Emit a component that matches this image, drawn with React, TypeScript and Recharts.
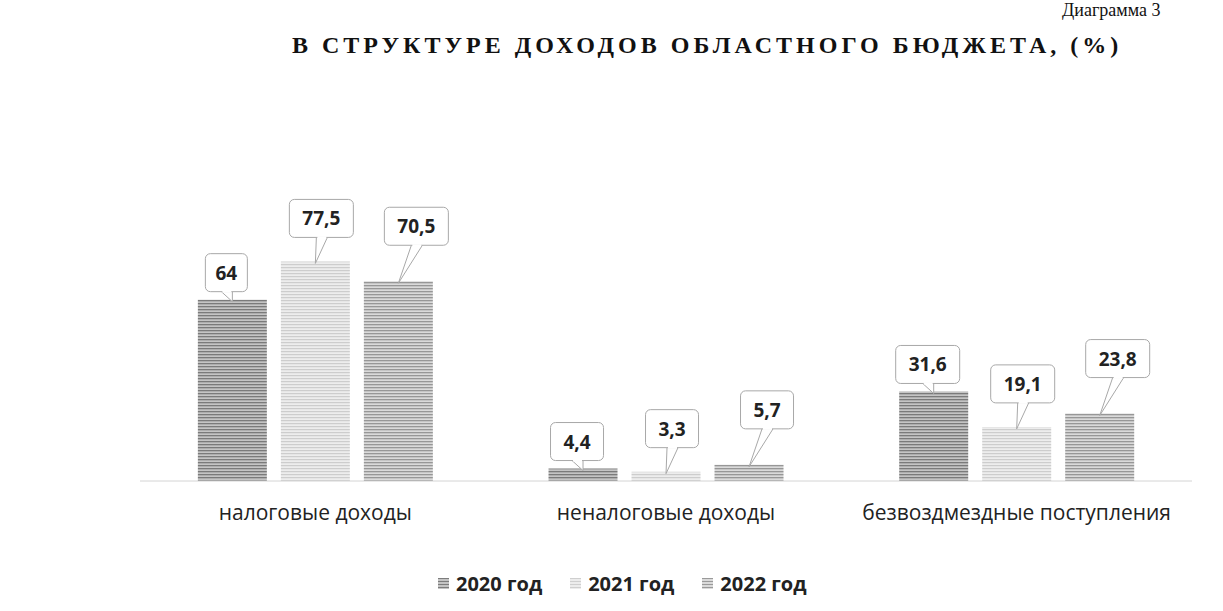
import { BarChart, Bar, XAxis, YAxis, LabelList } from "recharts";

const categories = ["налоговые доходы", "неналоговые доходы", "безвоздмездные поступления"];
const y2020 = [64, 4.4, 31.6];
const y2021 = [77.5, 3.3, 19.1];
const y2022 = [70.5, 5.7, 23.8];
const seriesNames = ["2020 год", "2021 год", "2022 год"];

const data = categories.map((name, i) => ({
  name,
  y2020: y2020[i],
  y2021: y2021[i],
  y2022: y2022[i],
}));

const fmt = (v: number) => String(v).replace(".", ",");

function Callout(props: any, dx: number, gap: number) {
  const { x, y, width, value } = props;
  const txt = fmt(Number(value));
  const w = txt.length * 11 + 20;
  const h = 38;
  const cx = x + width / 2 + dx;
  const bottom = y - gap;
  const top = bottom - h;
  const barCx = x + width / 2;
  return (
    <g>
      <path
        d={`M${cx - 5},${bottom} L${barCx},${y + 2} L${cx + 6},${bottom}`}
        fill="#fff"
        stroke="#a8a8a8"
        strokeWidth={1}
      />
      <rect
        x={cx - w / 2}
        y={top}
        width={w}
        height={h}
        rx={5}
        fill="#fff"
        stroke="#a8a8a8"
        strokeWidth={1}
      />
      <line x1={cx - 4} y1={bottom} x2={cx + 5} y2={bottom} stroke="#fff" strokeWidth={2} />
      <text
        x={cx}
        y={top + h / 2 + 7}
        textAnchor="middle"
        fontFamily="'Open Sans', sans-serif"
        fontWeight={700}
        fontSize={19}
        fill="#222"
      >
        {txt}
      </text>
    </g>
  );
}

const swatches = [
  "repeating-linear-gradient(#7d7d7d 0 1px, #c4c4c4 1px 3px)",
  "repeating-linear-gradient(#cfcfcf 0 1px, #ececec 1px 3px)",
  "repeating-linear-gradient(#9a9a9a 0 1px, #dadada 1px 3px)",
];

export default function App() {
  return (
    <div style={{ position: "absolute", left: 0, top: 0, width: 1223, height: 611, background: "#fff", overflow: "hidden" }}>
      <div style={{ position: "absolute", left: 1062, top: 0, fontFamily: "'Liberation Serif', serif", fontSize: 18, lineHeight: "20px", color: "#111" }}>
        Диаграмма 3
      </div>
      <div style={{ position: "absolute", left: 292, top: 32, fontFamily: "'Liberation Serif', serif", fontWeight: 700, fontSize: 24, letterSpacing: 4, whiteSpace: "nowrap", color: "#111" }}>
        В СТРУКТУРЕ ДОХОДОВ ОБЛАСТНОГО БЮДЖЕТА, (%)
      </div>
      <BarChart
        width={1223}
        height={611}
        data={data}
        margin={{ top: 226, right: 31, bottom: 100, left: 140 }}
        barCategoryGap="16.5%"
        barGap={14}
      >
        <defs>
          <pattern id="p2020" width="6" height="3" patternUnits="userSpaceOnUse">
            <rect width="6" height="3" fill="#c4c4c4" />
            <rect width="6" height="1.3" fill="#7a7a7a" />
          </pattern>
          <pattern id="p2021" width="6" height="3" patternUnits="userSpaceOnUse">
            <rect width="6" height="3" fill="#ededed" />
            <rect width="6" height="1.2" fill="#cdcdcd" />
          </pattern>
          <pattern id="p2022" width="6" height="3" patternUnits="userSpaceOnUse">
            <rect width="6" height="3" fill="#dadada" />
            <rect width="6" height="1.3" fill="#979797" />
          </pattern>
        </defs>
        <XAxis
          dataKey="name"
          axisLine={{ stroke: "#d4d4d4" }}
          tickLine={false}
          tickMargin={18}
          tick={{ fontFamily: "'Open Sans', sans-serif", fontSize: 21, fill: "#222" }}
        />
        <YAxis hide domain={[0, 90]} />
        <Bar dataKey="y2020" name={seriesNames[0]} fill="url(#p2020)" isAnimationActive={false}>
          <LabelList dataKey="y2020" content={(p: any) => Callout(p, -6, 8)} />
        </Bar>
        <Bar dataKey="y2021" name={seriesNames[1]} fill="url(#p2021)" isAnimationActive={false}>
          <LabelList dataKey="y2021" content={(p: any) => Callout(p, 6, 24)} />
        </Bar>
        <Bar dataKey="y2022" name={seriesNames[2]} fill="url(#p2022)" isAnimationActive={false}>
          <LabelList dataKey="y2022" content={(p: any) => Callout(p, 18, 36)} />
        </Bar>
      </BarChart>
      <div style={{ position: "absolute", left: 438, top: 570, display: "flex", gap: 28, fontFamily: "'Open Sans', sans-serif", fontWeight: 700, fontSize: 20, color: "#222" }}>
        {seriesNames.map((n, i) => (
          <div key={n} style={{ display: "flex", alignItems: "center", gap: 7 }}>
            <span style={{ width: 11, height: 11, background: swatches[i], display: "inline-block" }} />
            <span>{n}</span>
          </div>
        ))}
      </div>
    </div>
  );
}
